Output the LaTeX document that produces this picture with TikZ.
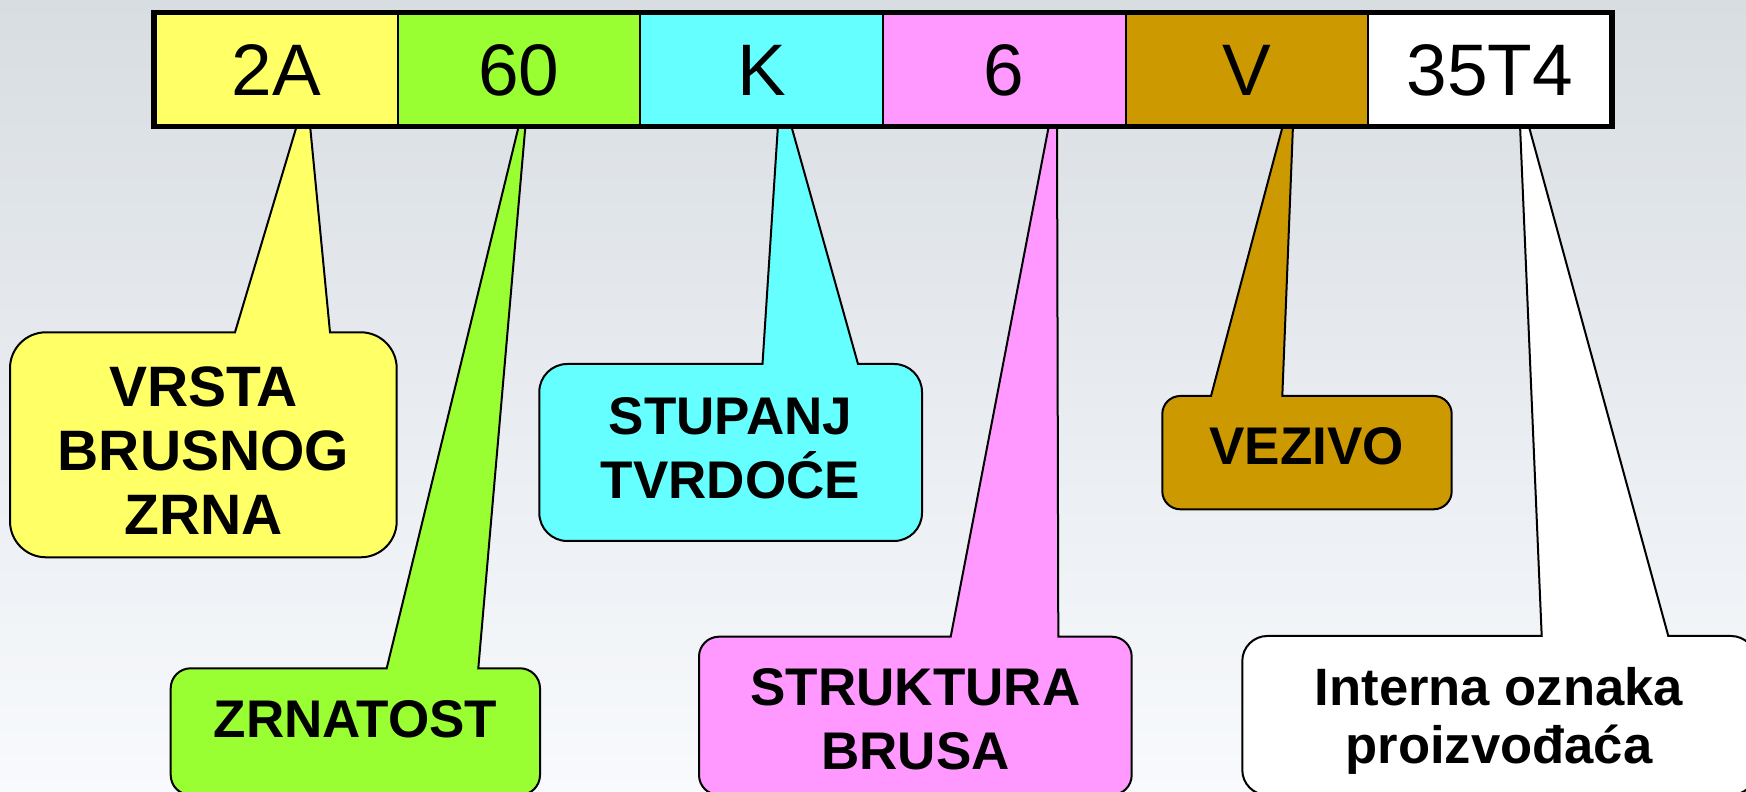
\documentclass[tikz,border=0pt]{standalone}
\usepackage{fontspec}
\setmainfont{Liberation Sans}
\definecolor{cyel}{HTML}{FFFF66}
\definecolor{cgrn}{HTML}{99FF33}
\definecolor{ccyn}{HTML}{66FFFF}
\definecolor{cpnk}{HTML}{FF99FF}
\definecolor{cbrn}{HTML}{CC9900}
\definecolor{bgtop}{HTML}{D8DDE2}
\definecolor{bgmid}{HTML}{EDF1F5}
\definecolor{bgbot}{HTML}{F8FAFD}
% #1 colour, #2 left, #3 right, #4 top, #5 bottom, #6 corner radius,
% #7 wedge left x, #8 wedge right x, #9 wedge tip segment at the bar
\newcommand\callout[9]{%
  \filldraw[callbox, fill=#1] (#7,#4) -- #9 -- (#8,#4)
    -- ({#3-#6},#4) arc[start angle=90,end angle=0,radius=#6pt]
    -- (#3,{#5+#6}) arc[start angle=0,end angle=-90,radius=#6pt]
    -- ({#2+#6},#5) arc[start angle=270,end angle=180,radius=#6pt]
    -- (#2,{#4-#6}) arc[start angle=180,end angle=90,radius=#6pt]
    -- cycle;}
\begin{document}
\begin{tikzpicture}[x=1pt,y=1pt,
  callbox/.style={draw=black, line width=2pt, line join=miter},
  cell/.style={minimum width=242.7pt, minimum height=112pt, inner sep=0pt,
    draw=black, line width=2pt, text height=53pt, text depth=0pt,
    font=\fontsize{73}{88}\selectfont},
  lab/.style={align=center, inner sep=0pt, anchor=base,
    font=\bfseries\fontsize{53}{64}\selectfont}]
\useasboundingbox (0,0) rectangle (1746,792);
\clip (0,0) rectangle (1746,792);
\shade[top color=bgtop, middle color=bgmid, bottom color=bgbot] (0,0) rectangle (1746,792);

% callouts
\callout{cyel}{10}{396.7}{459.7}{234.7}{36}{235}{330}{(297,667) -- (310,667)}
\callout{cgrn}{170.7}{540}{123.7}{-3}{20}{386.7}{478.3}{(519,667) -- (525.5,667)}
\callout{ccyn}{539.3}{922}{428}{251}{28}{762.5}{858}{(778,667) -- (791,667)}
\callout{cpnk}{699}{1131.7}{155.3}{-3}{20}{950.7}{1058.3}{(1049,667) -- (1057,667)}
\callout{cbrn}{1162.3}{1451.7}{396}{282.7}{18}{1211}{1282.3}{(1283,667) -- (1293,667)}
\callout{white}{1242.3}{1756}{156}{-3}{25}{1541.7}{1668.3}{(1520,667) -- (1528.5,667)}

% bar cells
\node[cell, fill=cyel] (c1) at (276.2,722.5) {2A};
\node[cell, fill=cgrn] (c2) at (518.9,722.5) {60};
\node[cell, fill=ccyn] (c3) at (761.6,722.5) {K};
\node[cell, fill=cpnk] (c4) at (1004.2,722.5) {6};
\node[cell, fill=cbrn] (c5) at (1246.9,722.5) {V};
\node[cell, fill=white] (c6) at (1489.6,722.5) {35T4};
\draw[line width=5.5pt] (c1.south west) rectangle (c6.north east);

% labels (anchor base = baseline of the last line)
\node[lab, font=\bfseries\fontsize{57}{64}\selectfont] (l1) at (203.5,257) {VRSTA\\BRUSNOG\\ZRNA};
\node[lab] (l2) at (355.5,54.7) {ZRNATOST};
\node[lab] (l3) at (730.5,293) {STUPANJ\\TVRDOĆE};
\node[lab] (l4) at (915.5,22) {STRUKTURA\\BRUSA};
\node[lab] (l5) at (1306.5,327.7) {VEZIVO};
\node[lab, font=\bfseries\fontsize{52.6}{58}\selectfont] (l6) at (1499,28) {Interna oznaka\\proizvođaća};
\end{tikzpicture}
\end{document}
